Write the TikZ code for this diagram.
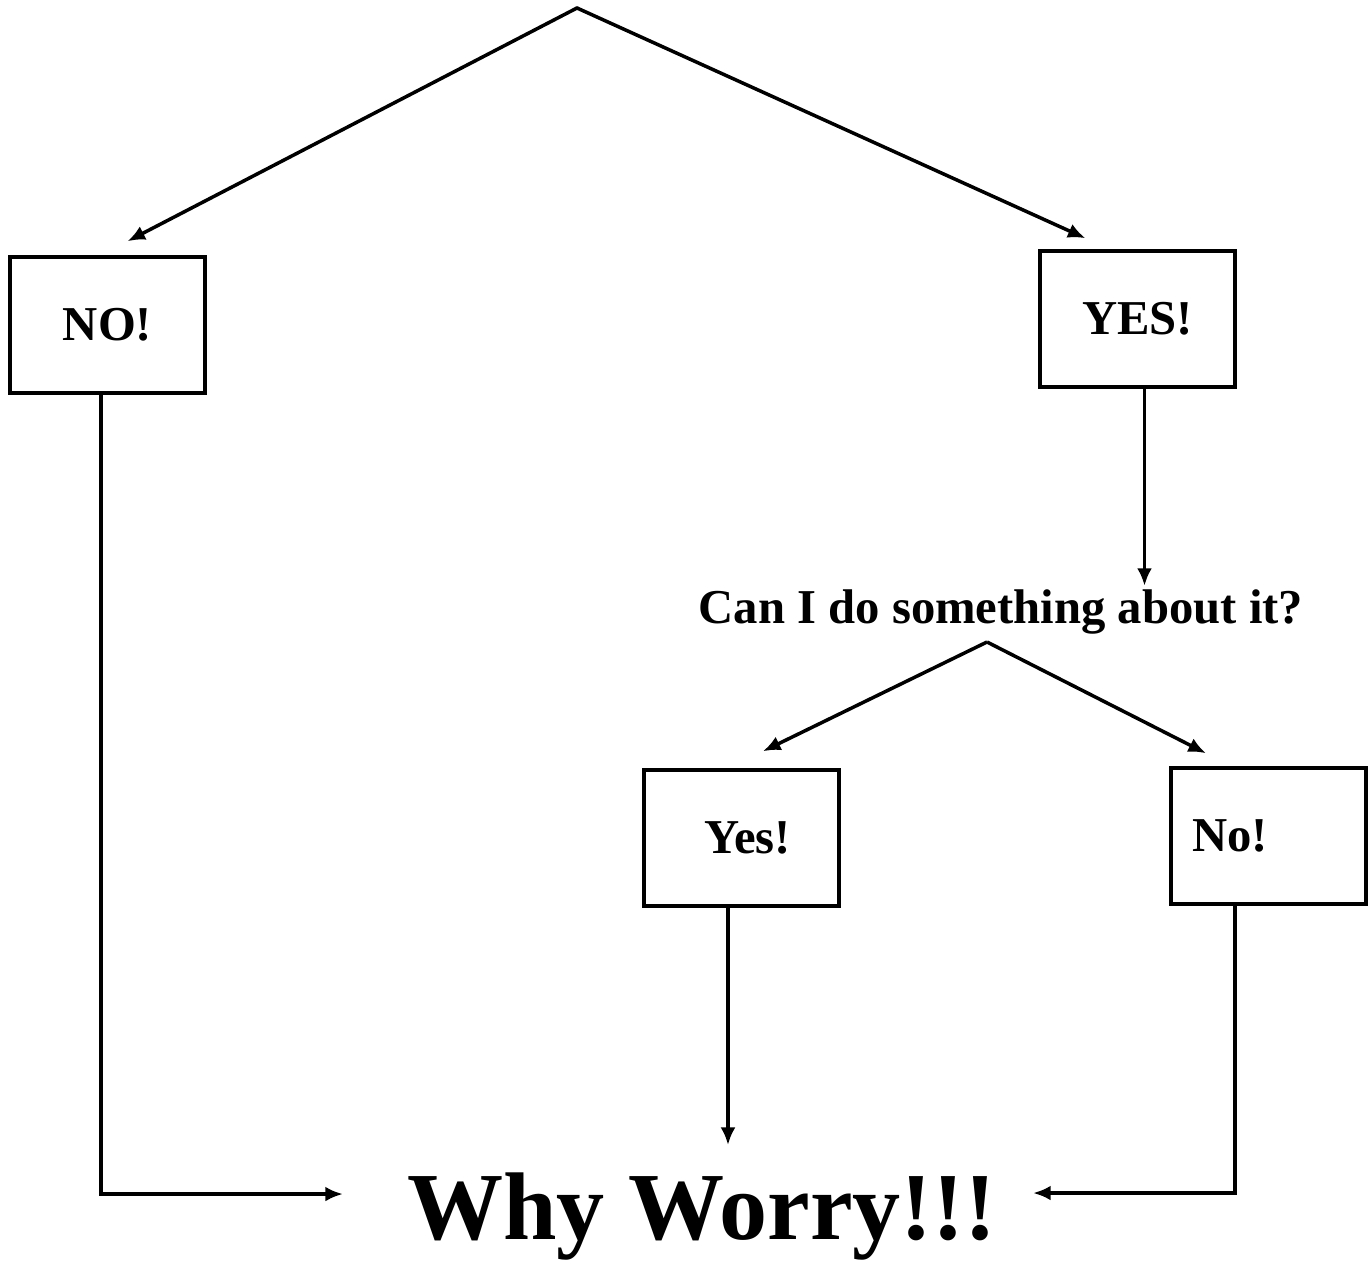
\documentclass[tikz,border=0pt]{standalone}
\usepackage{fontspec}
\setmainfont{Liberation Serif}
\usepackage{tikz}
\usetikzlibrary{arrows.meta,calc}

\begin{document}
\begin{tikzpicture}[
  x=0.02cm, y=-0.02cm,
  box/.style={draw, line width=2pt, minimum width=3.9cm, minimum height=2.72cm, font=\fontsize{27.7}{30}\selectfont\bfseries},
  q/.style={font=\fontsize{27.7}{30}\selectfont\bfseries, inner sep=2pt},
  arr/.style={-{Latex[length=10pt,width=8.5pt]}, line width=2pt}
]
\useasboundingbox (0,0) rectangle (1372,1264);
\coordinate (top) at (577,8);
\node[box] (nobox) at (107.5,325) {\raisebox{-0.06cm}{NO!}};
\node[box] (yesbox) at (1137.5,319) {\raisebox{-0.17cm}{YES!}};
\node[q] (ask) at (1001,612) {Can I do something about it?};
\coordinate (fork) at (987,642);
\node[box, text width=3.4cm, inner xsep=0.25cm, align=center] (yb) at (741.5,838) {\hspace*{0.25cm}Yes!};
\node[box, text width=3.06cm, inner xsep=0.42cm, align=left] (nb) at (1268.5,836) {No!};
\node[font=\fontsize{54.7}{60}\selectfont\bfseries, anchor=base] (worry) at (702,1239) {Why Worry!!!};
% arrow ends
\coordinate (ys) at ($(yesbox.south)+(7,0)$);
\coordinate (yd) at ($(yb.south)+(-13.5,0)$);
\coordinate (nd) at ($(nobox.south)+(-6.5,0)$);
\coordinate (rd) at ($(nb.south)+(-33.5,0)$);
\draw[arr] (top) -- ($(nobox.north)+(20,-14)$);
\draw[arr] (top) -- ($(yesbox.north)+(-52,-11)$);
\draw[line width=2pt, line cap=round] (top) -- ++(0,0.01);
\draw[arr] (ys) -- (ys |- ask.north);
\draw[arr] (fork) -- ($(yb.north)+(21.5,-17)$);
\draw[arr] (fork) -- ($(nb.north)+(-62.5,-13)$);
\draw[arr, shorten >=12pt] (yd) -- (yd |- worry.north);
\draw[arr] (nd) |- ($(worry.west)+(-58,-22)$);
\draw[arr] (rd) |- ($(worry.east)+(30,-23)$);
\end{tikzpicture}
\end{document}
